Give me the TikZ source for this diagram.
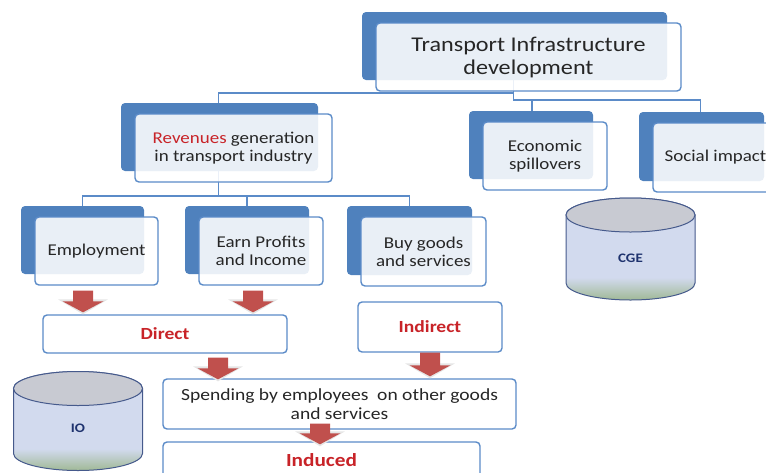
\documentclass[tikz,border=0pt]{standalone}
\usepackage{fontspec}
\setmainfont[FakeStretch=1.15]{Carlito}
\usetikzlibrary{backgrounds,shadows,calc}
\definecolor{boxblue}{RGB}{79,129,189}
\definecolor{edgeblue}{RGB}{91,139,200}
\definecolor{arrowred}{RGB}{192,80,77}
\definecolor{redtext}{RGB}{200,35,40}
\definecolor{dbedge}{RGB}{70,90,140}
\definecolor{dbbody}{RGB}{210,218,238}
\definecolor{dbgreen}{RGB}{160,185,150}
\definecolor{dbtop}{RGB}{200,202,210}
\definecolor{dbtext}{RGB}{30,50,110}
\pgfdeclareverticalshading{dbshade}{100bp}{color(0bp)=(dbgreen); color(25bp)=(dbgreen);
  color(36bp)=(dbbody); color(100bp)=(dbbody)}
\tikzset{
 card/.style={draw=edgeblue, line width=1.4pt, rounded corners=4pt,
   fill=white, fill opacity=0.88, text opacity=1, text=black!85,
   inner sep=0pt, align=center, font=\fontsize{16.5}{18}\selectfont,
   minimum width=124pt, minimum height=68pt,
   copy shadow={shadow xshift=-14pt, shadow yshift=11pt, fill=boxblue,
     draw=none, fill opacity=1}},
 effect/.style={draw=edgeblue, line width=1.4pt, rounded corners=4pt,
   fill=white, inner sep=0pt, align=center, text=redtext,
   font=\bfseries\fontsize{17}{19}\selectfont},
 link/.style={draw=edgeblue, line width=1.8pt},
 dbline/.style={draw=dbedge, line width=1pt},
 dblabel/.style={text=dbtext, font=\bfseries\fontsize{13}{15}\selectfont},
}

\begin{document}
\begin{tikzpicture}[x=1pt, y=-1pt]
    \useasboundingbox (0,0) rectangle (766,472);
    \clip (0,0) rectangle (766,472);

    % tree of impacts
    \node[card, font=\fontsize{21}{23}\selectfont, minimum width=305pt] (top) at (528.5,57) {Transport Infrastructure\\development};
    \node[card, minimum width=197pt] (rev) at (233.5,148) {{\color{redtext}Revenues} generation\\in transport industry};
    \node[card] (econ) at (545,156) {Economic\\spillovers};
    \node[card, minimum width=125pt, minimum height=69pt] (social) at (715.5,157.5) {Social impact};
    \node[card, minimum width=123pt] (emp) at (96.5,251) {Employment};
    \node[card] (earn) at (261,251) {Earn Profits\\and Income};
    \node[card, minimum width=125pt, minimum height=69pt] (buy) at (423.5,251.5) {Buy goods\\and services};

    % effects
    \node[effect, minimum width=244pt, minimum height=38pt] (direct) at (165,334) {Direct};
    \node[effect, minimum width=144pt, minimum height=50pt] (indirect) at (430,327) {Indirect};
    \node[effect, minimum width=353pt, minimum height=50pt, text=black!85, font=\fontsize{17}{19}\selectfont] (spend) at (339.5,404) {Spending by employees~ on other goods\\and services};
    \node[effect, minimum width=317pt, minimum height=36pt, font=\bfseries\fontsize{18.5}{20}\selectfont] (induced) at (321.5,460) {Induced};

    % models
    \foreach \n/\t/\x/\yt/\yb in {cge/CGE/630.5/215/283, io/IO/78/388.5/453.5} {
        \shade[dbline, shading=dbshade]
            (\x-64.5,\yt) -- (\x-64.5,\yb) arc[start angle=180, end angle=360, x radius=64.5pt, y radius=17pt]
            -- (\x+64.5,\yt) arc[start angle=0, end angle=180, x radius=64.5pt, y radius=17pt] -- cycle;
        \filldraw[dbline, fill=dbtop] (\x,\yt) ellipse [x radius=64.5pt, y radius=17pt];
        \node[dblabel] (\n) at (\x,\yb-25) {\t};
    }

    \begin{scope}[on background layer]
        \draw[link] ([xshift=-15pt]top.center) |- ++(0,36) -| ([xshift=-15pt]rev.north);
        \foreach \n/\s in {econ/-13pt, social/-15pt}
            \draw[link] ([xshift=-15pt]top.center) -- ++(0,43) -| ([xshift=\s]\n.north);
        \foreach \n in {emp, earn, buy}
            \draw[link] ([xshift=-15pt]rev.center) -- ++(0,48) -| ([xshift=-14pt]\n.north);
    \end{scope}

    \foreach \a/\b/\dx/\ds/\de in {emp/direct/-13.5/5/-2, earn/direct/-8/5/-2,
        direct/spend/53/4/1, indirect/spend/0/0/-2, spend/induced/-19.5/-6/3} {
        \coordinate (s) at ($(\a.south)+(\dx,\ds)$);
        \coordinate (t) at ($(\a.south |- \b.north)+(\dx,\de)$);
        \fill[black!10] ($(t)+(-25,-13)$) -- ($(t)+(25,-13)$) -- ($(t)+(0,2)$) -- cycle;
        \fill[arrowred] ($(s)+(-10,0)$) -- ($(s)+(10,0)$) -- ($(t)+(10,-11)$)
            -- ($(t)+(20.5,-11)$) -- (t) -- ($(t)+(-20.5,-11)$) -- ($(t)+(-10,-11)$) -- cycle;
    }
\end{tikzpicture}
\end{document}
